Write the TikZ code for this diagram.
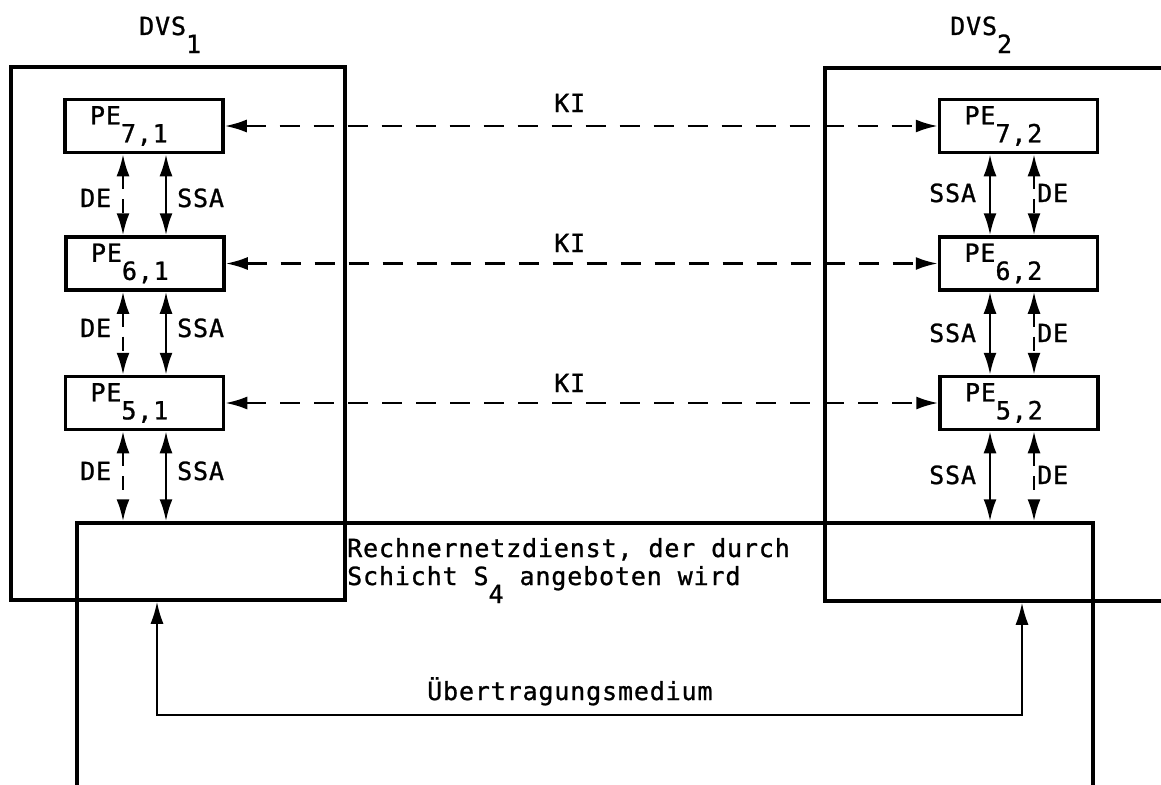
\documentclass[tikz,border=0pt]{standalone}
\usepackage{fontspec}
\setmonofont{DejaVu Sans Mono}[LetterSpace=3.4,FakeBold=1]
\usetikzlibrary{arrows.meta}
\newcommand\lowsub[1]{\raisebox{-18pt}{#1}}
\begin{document}
\begin{tikzpicture}[x=1pt,y=-1pt,
  font=\ttfamily\fontsize{25}{28}\selectfont,
  box/.style={draw, line width=3.5pt, inner sep=0pt},
  pe/.style={box, minimum width=158pt, minimum height=53pt, text width=108pt, inner xsep=25pt, align=left},
  lab/.style={inner sep=0pt, anchor=base west},
  tip/.tip={Latex[length=22pt,width=13pt]},
  solidarrow/.style={line width=2.5pt, tip-tip},
  dasharrow/.style={solidarrow, dash pattern=on 14pt off 10pt},
  kiarrow/.style={solidarrow, dash pattern=on 20pt off 14pt}]
\useasboundingbox (0,0) rectangle (1161,784);
\clip (0,0) rectangle (1161,784);

% outer boxes
\node[box, minimum width=334pt, minimum height=533pt] (dvs1) at (178,333.5) {};
\node[box, minimum width=380pt, minimum height=533pt] (dvs2) at (1015,334.5) {};
\node[box, minimum width=1016pt, minimum height=300pt] (net) at (585,673) {};

% PE boxes
\node[pe] (p71) at (144,126) {PE\lowsub{7,1}};
\node[pe] (p61) at (145,263.5) {PE\lowsub{6,1}};
\node[pe] (p51) at (144.5,403) {PE\lowsub{5,1}};
\node[pe] (p72) at (1018.5,126) {PE\lowsub{7,2}};
\node[pe] (p62) at (1018.5,263.5) {PE\lowsub{6,2}};
\node[pe] (p52) at (1019,403) {PE\lowsub{5,2}};

% labels
\node[lab] (l1) at (139,35) {DVS\lowsub{1}};
\node[lab] (l2) at (950,35) {DVS\lowsub{2}};
\node[lab] (k7) at (554,112) {KI};
\node[lab] (k6) at (554,252) {KI};
\node[lab] (k5) at (554,392) {KI};
\node[lab] (dl1) at (80,207) {DE};
\node[lab] (dl2) at (80,337) {DE};
\node[lab] (dl3) at (80,480) {DE};
\node[lab] (sl1) at (177,207) {SSA};
\node[lab] (sl2) at (177,337) {SSA};
\node[lab] (sl3) at (177,480) {SSA};
\node[lab] (sr1) at (929,202) {SSA};
\node[lab] (sr2) at (929,342) {SSA};
\node[lab] (sr3) at (929,484) {SSA};
\node[lab] (dr1) at (1037,202) {DE};
\node[lab] (dr2) at (1037,342) {DE};
\node[lab] (dr3) at (1037,484) {DE};
\node[lab] (rn1) at (347,557) {Rechnernetzdienst, der durch};
\node[lab] (rn2) at (347,585) {Schicht S\lowsub{4} angeboten wird};
\node[lab] (um) at (427,700) {Übertragungsmedium};

% x positions of vertical arrows
\coordinate (xdl) at (123,0);
\coordinate (xsl) at (166,0);
\coordinate (xsr) at (990,0);
\coordinate (xdr) at (1034,0);

% left vertical arrows
\draw[dasharrow] (p71.south -| xdl) -- (p61.north -| xdl);
\draw[solidarrow] (p71.south -| xsl) -- (p61.north -| xsl);
\draw[dasharrow] (p61.south -| xdl) -- (p51.north -| xdl);
\draw[solidarrow] (p61.south -| xsl) -- (p51.north -| xsl);
\draw[dasharrow] (p51.south -| xdl) -- (net.north -| xdl);
\draw[solidarrow] (p51.south -| xsl) -- (net.north -| xsl);

% right vertical arrows
\draw[solidarrow] (p72.south -| xsr) -- (p62.north -| xsr);
\draw[dasharrow] (p72.south -| xdr) -- (p62.north -| xdr);
\draw[solidarrow] (p62.south -| xsr) -- (p52.north -| xsr);
\draw[dasharrow] (p62.south -| xdr) -- (p52.north -| xdr);
\draw[solidarrow] (p52.south -| xsr) -- (net.north -| xsr);
\draw[dasharrow] (p52.south -| xdr) -- (net.north -| xdr);

% KI arrows
\draw[kiarrow] (p71.east) -- (p72.west);
\draw[kiarrow] (p61.east) -- (p62.west);
\draw[kiarrow] (p51.east) -- (p52.west);

% transmission medium
\coordinate (mL) at (157,715);
\coordinate (mR) at (1022,715);
\draw[solidarrow, line width=2pt] (dvs1.south -| mL) -- (mL) -- (mR) -- (dvs2.south -| mR);
\end{tikzpicture}
\end{document}
